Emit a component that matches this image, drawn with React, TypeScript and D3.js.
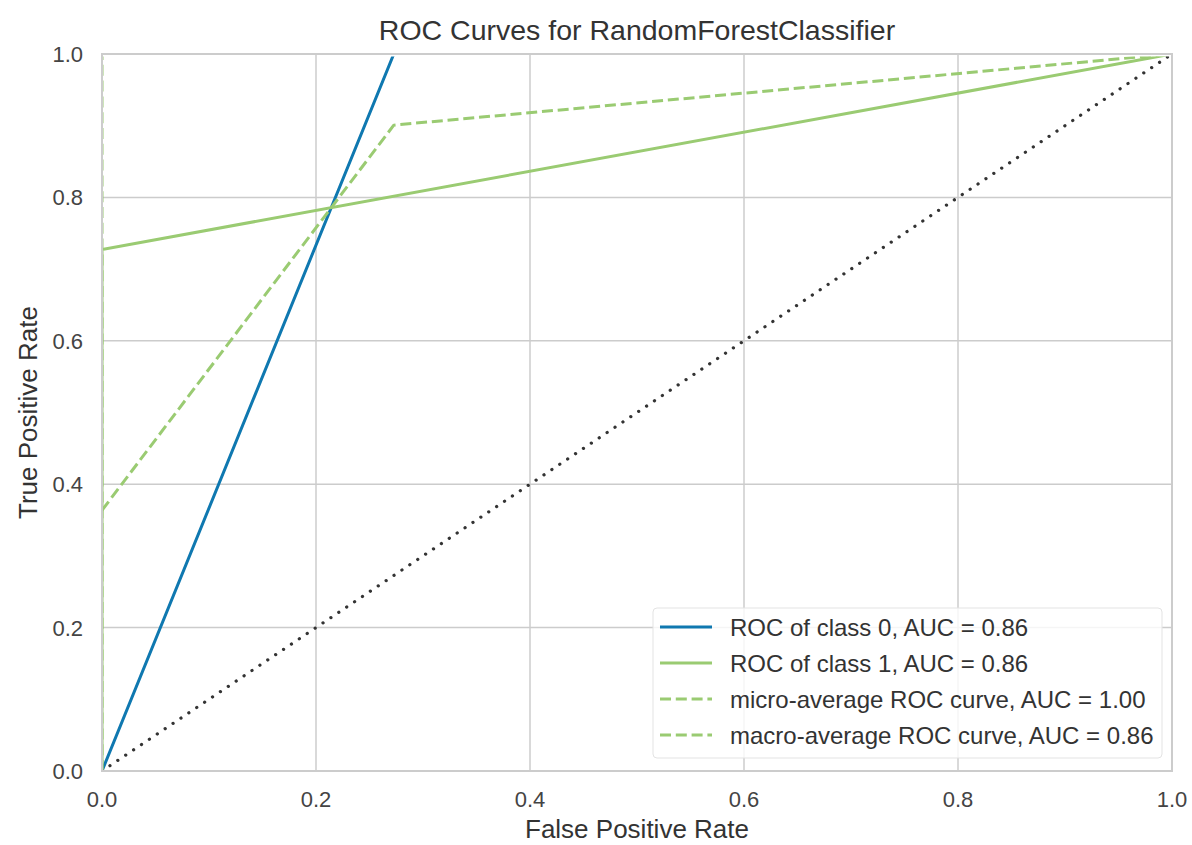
import React from "react";
import * as d3 from "d3";

const title = "ROC Curves for RandomForestClassifier";
const xLabel = "False Positive Rate";
const yLabel = "True Positive Rate";
const ticks = [0, 0.2, 0.4, 0.6, 0.8, 1.0];

const class0Fpr = [0, 0.2727, 1];
const class0Tpr = [0, 1, 1];
const class1Fpr = [0, 0, 1];
const class1Tpr = [0, 0.7273, 1];
const microFpr = [0, 0, 1];
const microTpr = [0, 1, 1];
const macroFpr = [0, 0.2727, 1];
const macroTpr = [0.3636, 0.9008, 1];
const diagFpr = [0, 1];
const diagTpr = [0, 1];

const seriesNames = [
  "ROC of class 0, AUC = 0.86",
  "ROC of class 1, AUC = 0.86",
  "micro-average ROC curve, AUC = 1.00",
  "macro-average ROC curve, AUC = 0.86",
];

const BLUE = "#0f78b0";
const GREEN = "#9acb72";

const W = 1192, H = 845;
const M = { left: 102, top: 54, right: 20, bottom: 74 };
const FONT = "'Liberation Sans', Arial, sans-serif";

export default function App() {
  const iw = W - M.left - M.right;
  const ih = H - M.top - M.bottom;
  const x = d3.scaleLinear().domain([0, 1]).range([0, iw]);
  const y = d3.scaleLinear().domain([0, 1]).range([ih, 0]);
  const line = (xs: number[], ys: number[]) =>
    d3.line<number>().x((_, i) => x(xs[i])).y((_, i) => y(ys[i]))(xs) || "";

  const series = [
    { xs: class0Fpr, ys: class0Tpr, color: BLUE, dash: "none" },
    { xs: class1Fpr, ys: class1Tpr, color: GREEN, dash: "none" },
    { xs: microFpr, ys: microTpr, color: GREEN, dash: "11,4.8" },
    { xs: macroFpr, ys: macroTpr, color: GREEN, dash: "11,4.8" },
  ];

  const lgX = 653 - M.left, lgY = 608 - M.top, lgW = 509, lgH = 150;

  return (
    <svg width={W} height={H} style={{ position: "absolute", left: 0, top: 0, fontFamily: FONT }}>
      <rect width={W} height={H} fill="#fff" />
      <defs>
        <clipPath id="plotclip">
          <rect x={0} y={2.5} width={iw - 2} height={ih - 2.5} />
        </clipPath>
      </defs>
      <text x={M.left + iw / 2} y={40} textAnchor="middle" fontSize={28.5} fill="#333">{title}</text>
      <g transform={`translate(${M.left},${M.top})`}>
        {ticks.map((t) => (
          <g key={"g" + t}>
            <line x1={x(t)} x2={x(t)} y1={0} y2={ih} stroke="#cccccc" strokeWidth={1.5} />
            <line x1={0} x2={iw} y1={y(t)} y2={y(t)} stroke="#cccccc" strokeWidth={1.5} />
          </g>
        ))}
        <g clipPath="url(#plotclip)">
          {series.map((s, i) => (
            <path key={i} d={line(s.xs, s.ys)} fill="none" stroke={s.color} strokeWidth={3}
              strokeDasharray={s.dash} strokeLinejoin="round" />
          ))}
          <path d={line(diagFpr, diagTpr)} fill="none" stroke="#333" strokeWidth={3.2}
            strokeDasharray="0.1,9.4" strokeLinecap="round" />
        </g>
        <rect x={0} y={0} width={iw} height={ih} fill="none" stroke="#cccccc" strokeWidth={2} />
        {ticks.map((t) => (
          <text key={"xt" + t} x={x(t)} y={ih + 36} textAnchor="middle" fontSize={22} fill="#444">
            {t.toFixed(1)}
          </text>
        ))}
        {ticks.map((t) => (
          <text key={"yt" + t} x={-19} y={y(t) + 8} textAnchor="end" fontSize={22} fill="#444">
            {t.toFixed(1)}
          </text>
        ))}
        <text x={iw / 2} y={ih + 67} textAnchor="middle" fontSize={26} fill="#333">{xLabel}</text>
        <text transform={`translate(${-65},${ih / 2}) rotate(-90)`} textAnchor="middle" fontSize={26} fill="#333">{yLabel}</text>
        <g transform={`translate(${lgX},${lgY})`}>
          <rect x={0} y={0} width={lgW} height={lgH} rx={4} fill="#fff" fillOpacity={0.8} stroke="#e3e3e3" strokeWidth={1} />
          {series.map((s, i) => (
            <g key={"lg" + i} transform={`translate(0,${19 + i * 36})`}>
              <line x1={7} x2={59} y1={0} y2={0} stroke={s.color} strokeWidth={3} strokeDasharray={s.dash} />
              <text x={77} y={8.5} fontSize={24} fill="#333">{seriesNames[i]}</text>
            </g>
          ))}
        </g>
      </g>
    </svg>
  );
}
